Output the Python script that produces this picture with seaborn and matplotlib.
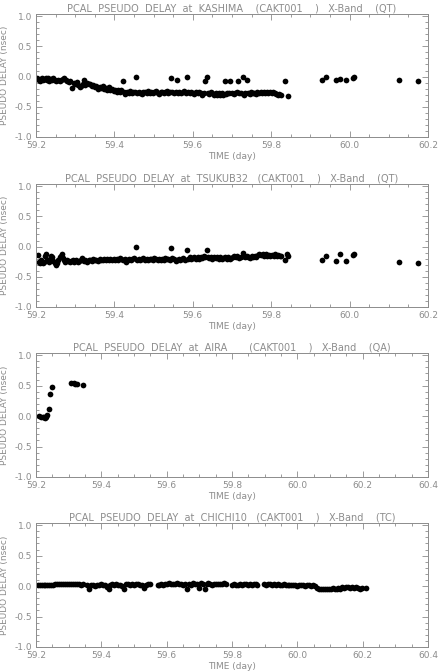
import matplotlib
matplotlib.use("Agg")
import matplotlib.pyplot as plt
import numpy as np
import pandas as pd
import seaborn as sns
from matplotlib.ticker import MultipleLocator, FormatStrFormatter

# --- data -----------------------------------------------------------------
kashima_time = [
    59.203, 59.207, 59.210, 59.213, 59.216, 59.219, 59.222, 59.225, 59.228, 59.231,
    59.234, 59.237, 59.240, 59.244, 59.248, 59.252, 59.256, 59.260, 59.264, 59.268,
    59.272, 59.276, 59.280, 59.284, 59.288, 59.292, 59.296, 59.300, 59.304, 59.308,
    59.312, 59.316, 59.320, 59.323, 59.326, 59.330, 59.334, 59.338, 59.342, 59.346,
    59.350, 59.354, 59.358, 59.362, 59.366, 59.370, 59.374, 59.378, 59.382, 59.386,
    59.390, 59.394, 59.398, 59.402, 59.406, 59.410, 59.414, 59.418, 59.421, 59.424,
    59.428, 59.432, 59.436, 59.440, 59.444, 59.448, 59.452, 59.455, 59.458, 59.462,
    59.466, 59.470, 59.474, 59.478, 59.482, 59.486, 59.490, 59.494, 59.498, 59.502,
    59.506, 59.510, 59.514, 59.518, 59.522, 59.526, 59.530, 59.534, 59.538, 59.542,
    59.545, 59.548, 59.552, 59.556, 59.560, 59.562, 59.566, 59.570, 59.574, 59.578,
    59.582, 59.585, 59.588, 59.592, 59.596, 59.600, 59.604, 59.608, 59.612, 59.616,
    59.620, 59.624, 59.628, 59.632, 59.635, 59.638, 59.642, 59.646, 59.650, 59.654,
    59.658, 59.662, 59.666, 59.670, 59.674, 59.678, 59.681, 59.684, 59.688, 59.692,
    59.696, 59.700, 59.704, 59.708, 59.712, 59.715, 59.718, 59.722, 59.727, 59.730,
    59.734, 59.738, 59.741, 59.745, 59.749, 59.753, 59.757, 59.761, 59.765, 59.769,
    59.773, 59.777, 59.781, 59.785, 59.789, 59.793, 59.797, 59.801, 59.805, 59.809,
    59.813, 59.817, 59.821, 59.825, 59.836, 59.843, 59.930, 59.940, 59.966, 59.975,
    59.990, 60.008, 60.012, 60.125, 60.175,
]
kashima_delay = [
    -0.02, -0.05, -0.07, -0.04, -0.03, -0.06, -0.04, -0.02, -0.05, -0.03,
    -0.07, -0.04, -0.06, -0.03, -0.05, -0.07, -0.06, -0.08, -0.05, -0.04,
    -0.03, -0.05, -0.07, -0.09, -0.08, -0.19, -0.10, -0.12, -0.09, -0.14,
    -0.17, -0.15, -0.12, -0.05, -0.14, -0.11, -0.13, -0.12, -0.16, -0.14,
    -0.18, -0.15, -0.20, -0.17, -0.19, -0.16, -0.21, -0.19, -0.22, -0.18,
    -0.22, -0.20, -0.24, -0.22, -0.25, -0.23, -0.26, -0.22, -0.07, -0.25,
    -0.29, -0.25, -0.27, -0.24, -0.28, -0.26, -0.25, 0.00, -0.28, -0.25,
    -0.27, -0.29, -0.26, -0.25, -0.28, -0.24, -0.27, -0.25, -0.28, -0.26,
    -0.24, -0.27, -0.29, -0.26, -0.25, -0.28, -0.26, -0.24, -0.27, -0.25,
    -0.02, -0.26, -0.28, -0.25, -0.06, -0.27, -0.25, -0.28, -0.26, -0.24,
    -0.27, 0.00, -0.26, -0.28, -0.25, -0.27, -0.29, -0.26, -0.28, -0.25,
    -0.27, -0.30, -0.28, -0.07, -0.01, -0.27, -0.29, -0.26, -0.28, -0.30,
    -0.27, -0.31, -0.28, -0.30, -0.27, -0.31, -0.07, -0.29, -0.27, -0.28,
    -0.08, -0.27, -0.29, -0.28, -0.26, -0.08, -0.28, -0.27, 0.00, -0.30,
    -0.28, -0.06, -0.27, -0.29, -0.26, -0.28, -0.27, -0.29, -0.26, -0.28,
    -0.25, -0.27, -0.26, -0.28, -0.25, -0.27, -0.26, -0.28, -0.26, -0.27,
    -0.29, -0.31, -0.29, -0.30, -0.07, -0.32, -0.06, -0.01, -0.05, -0.04,
    -0.06, -0.03, -0.01, -0.06, -0.08,
]

tsukub_time = [
    59.205, 59.208, 59.211, 59.214, 59.217, 59.220, 59.223, 59.226, 59.229, 59.232,
    59.235, 59.238, 59.241, 59.244, 59.248, 59.251, 59.254, 59.257, 59.260, 59.263,
    59.266, 59.269, 59.272, 59.275, 59.278, 59.282, 59.286, 59.290, 59.294, 59.298,
    59.302, 59.306, 59.310, 59.314, 59.318, 59.322, 59.326, 59.330, 59.334, 59.338,
    59.342, 59.346, 59.350, 59.354, 59.358, 59.362, 59.366, 59.370, 59.374, 59.378,
    59.382, 59.386, 59.390, 59.394, 59.398, 59.402, 59.406, 59.410, 59.414, 59.418,
    59.422, 59.426, 59.430, 59.434, 59.438, 59.442, 59.446, 59.450, 59.455, 59.458,
    59.462, 59.466, 59.470, 59.474, 59.478, 59.482, 59.486, 59.490, 59.494, 59.498,
    59.502, 59.506, 59.510, 59.514, 59.518, 59.522, 59.526, 59.530, 59.534, 59.538,
    59.542, 59.545, 59.548, 59.552, 59.556, 59.560, 59.564, 59.568, 59.572, 59.576,
    59.580, 59.585, 59.588, 59.592, 59.596, 59.600, 59.604, 59.608, 59.612, 59.616,
    59.620, 59.624, 59.628, 59.632, 59.635, 59.638, 59.642, 59.646, 59.650, 59.654,
    59.658, 59.662, 59.666, 59.670, 59.674, 59.678, 59.682, 59.686, 59.690, 59.694,
    59.698, 59.702, 59.706, 59.710, 59.714, 59.718, 59.722, 59.727, 59.730, 59.734,
    59.738, 59.742, 59.746, 59.750, 59.754, 59.758, 59.762, 59.766, 59.770, 59.774,
    59.778, 59.782, 59.786, 59.790, 59.794, 59.798, 59.802, 59.806, 59.810, 59.814,
    59.818, 59.822, 59.826, 59.836, 59.840, 59.843, 59.930, 59.940, 59.966, 59.975,
    59.990, 60.008, 60.012, 60.125, 60.175,
]
tsukub_delay = [
    -0.14, -0.25, -0.27, -0.22, -0.27, -0.25, -0.16, -0.13, -0.22, -0.26,
    -0.20, -0.15, -0.18, -0.24, -0.28, -0.30, -0.27, -0.22, -0.17, -0.15,
    -0.13, -0.19, -0.23, -0.26, -0.22, -0.24, -0.26, -0.24, -0.22, -0.25,
    -0.23, -0.26, -0.24, -0.22, -0.19, -0.24, -0.22, -0.25, -0.23, -0.22,
    -0.24, -0.21, -0.23, -0.22, -0.24, -0.21, -0.23, -0.22, -0.20, -0.23,
    -0.21, -0.22, -0.20, -0.23, -0.21, -0.22, -0.20, -0.22, -0.19, -0.21,
    -0.23, -0.21, -0.26, -0.22, -0.20, -0.23, -0.21, -0.19, 0.00, -0.22,
    -0.20, -0.23, -0.21, -0.19, -0.22, -0.20, -0.23, -0.21, -0.20, -0.22,
    -0.19, -0.21, -0.23, -0.20, -0.22, -0.20, -0.22, -0.19, -0.21, -0.20,
    -0.22, -0.03, -0.19, -0.21, -0.24, -0.22, -0.20, -0.23, -0.21, -0.19,
    -0.22, -0.05, -0.20, -0.18, -0.21, -0.19, -0.17, -0.20, -0.18, -0.21,
    -0.17, -0.19, -0.16, -0.18, -0.06, -0.17, -0.19, -0.17, -0.20, -0.18,
    -0.19, -0.17, -0.20, -0.18, -0.21, -0.19, -0.17, -0.20, -0.18, -0.21,
    -0.19, -0.17, -0.15, -0.18, -0.16, -0.19, -0.17, -0.10, -0.16, -0.18,
    -0.15, -0.17, -0.19, -0.16, -0.18, -0.15, -0.17, -0.14, -0.12, -0.14,
    -0.12, -0.15, -0.13, -0.15, -0.14, -0.16, -0.14, -0.15, -0.13, -0.15,
    -0.14, -0.16, -0.15, -0.23, -0.13, -0.16, -0.23, -0.15, -0.24, -0.12,
    -0.24, -0.14, -0.13, -0.25, -0.27,
]

aira_time = [
    59.210, 59.215, 59.220, 59.224, 59.228, 59.231, 59.235, 59.240, 59.244, 59.249,
    59.307, 59.315, 59.320, 59.326, 59.345,
]
aira_delay = [
    0.00, -0.01, -0.01, -0.02, -0.03, -0.02, 0.02, 0.12, 0.37, 0.48,
    0.55, 0.54, 0.53, 0.52, 0.51,
]

chichi_time = [
    59.205, 59.211, 59.217, 59.223, 59.229, 59.235, 59.241, 59.247, 59.253, 59.259,
    59.265, 59.271, 59.277, 59.283, 59.289, 59.295, 59.301, 59.307, 59.313, 59.319,
    59.325, 59.331, 59.337, 59.343, 59.356, 59.362, 59.368, 59.374, 59.380, 59.386,
    59.392, 59.398, 59.404, 59.410, 59.416, 59.422, 59.428, 59.434, 59.440, 59.446,
    59.452, 59.458, 59.464, 59.470, 59.476, 59.482, 59.488, 59.494, 59.500, 59.506,
    59.512, 59.518, 59.524, 59.530, 59.536, 59.542, 59.548, 59.572, 59.578, 59.584,
    59.590, 59.596, 59.602, 59.608, 59.614, 59.620, 59.626, 59.632, 59.638, 59.644,
    59.650, 59.656, 59.662, 59.668, 59.674, 59.680, 59.686, 59.692, 59.698, 59.704,
    59.710, 59.716, 59.722, 59.728, 59.734, 59.740, 59.746, 59.752, 59.758, 59.764,
    59.770, 59.776, 59.782, 59.800, 59.806, 59.812, 59.818, 59.824, 59.830, 59.836,
    59.842, 59.848, 59.854, 59.860, 59.866, 59.872, 59.878, 59.898, 59.904, 59.910,
    59.916, 59.922, 59.928, 59.934, 59.940, 59.946, 59.952, 59.958, 59.964, 59.970,
    59.976, 59.982, 59.988, 59.994, 60.000, 60.006, 60.012, 60.018, 60.024, 60.030,
    60.036, 60.042, 60.048, 60.054, 60.060, 60.066, 60.072, 60.078, 60.084, 60.090,
    60.096, 60.102, 60.108, 60.114, 60.120, 60.126, 60.132, 60.138, 60.144, 60.150,
    60.156, 60.162, 60.168, 60.174, 60.180, 60.186, 60.192, 60.198, 60.210,
]
chichi_delay = [
    0.01, 0.02, 0.01, 0.02, 0.01, 0.02, 0.02, 0.01, 0.02, 0.03,
    0.03, 0.04, 0.04, 0.03, 0.04, 0.03, 0.04, 0.03, 0.04, 0.03,
    0.04, 0.03, 0.02, 0.03, 0.01, -0.04, 0.01, 0.02, 0.00, 0.02,
    0.01, 0.03, 0.02, 0.01, -0.01, -0.05, 0.02, 0.03, 0.02, 0.03,
    0.01, 0.02, 0.00, -0.05, 0.03, 0.04, 0.02, 0.03, 0.02, 0.04,
    0.03, 0.01, 0.02, -0.03, 0.01, 0.03, 0.03, 0.01, 0.02, 0.03,
    0.02, 0.04, 0.03, 0.05, 0.04, 0.03, 0.04, 0.05, 0.03, 0.04,
    0.02, 0.04, -0.05, 0.03, 0.02, 0.05, 0.03, 0.04, -0.03, 0.05,
    0.03, -0.04, 0.04, 0.05, 0.03, 0.02, 0.04, 0.03, 0.04, 0.03,
    0.04, 0.05, 0.04, 0.02, 0.03, 0.02, 0.01, 0.03, 0.02, 0.03,
    0.04, 0.02, 0.03, 0.02, 0.04, 0.03, 0.02, 0.03, 0.02, 0.03,
    0.04, 0.02, 0.03, 0.02, 0.03, 0.01, 0.02, 0.03, 0.02, 0.01,
    0.02, 0.01, 0.02, 0.01, 0.00, 0.02, 0.01, 0.02, 0.00, 0.01,
    0.01, 0.00, 0.01, 0.00, -0.03, -0.04, -0.05, -0.04, -0.05, -0.04,
    -0.05, -0.04, -0.03, -0.04, -0.05, -0.03, -0.04, -0.02, -0.03, -0.01,
    -0.02, -0.03, -0.02, -0.03, -0.02, -0.03, -0.04, -0.03, -0.03,
]

stations = ["KASHIMA", "TSUKUB32", "AIRA", "CHICHI10"]
codes = ["QT", "QT", "QA", "TC"]
x_max = [60.2, 60.2, 60.4, 60.4]
times = [kashima_time, tsukub_time, aira_time, chichi_time]
delays = [kashima_delay, tsukub_delay, aira_delay, chichi_delay]

# --- styling ---------------------------------------------------------------
sns.set_style("ticks")
plt.rcParams["font.family"] = ["DejaVu Sans"]
GREY = "#8c8c8c"
W, H = 439, 672
fig = plt.figure(figsize=(W / 100, H / 100), dpi=100)

# axes boxes in pixels (left, top, right, bottom)
boxes = [(36, 14, 428, 137), (36, 184, 428, 307), (36, 353, 428, 477), (36, 523, 428, 647)]

for i, (l, t, r, b) in enumerate(boxes):
    ax = fig.add_axes([l / W, 1 - b / H, (r - l) / W, (b - t) / H])
    df = pd.DataFrame({"time": times[i], "delay": delays[i]})
    sns.scatterplot(data=df, x="time", y="delay", ax=ax, color="black",
                    s=17, linewidth=0, legend=False)

    ax.set_xlim(59.2, x_max[i])
    ax.set_ylim(-1.0, 1.035)
    ax.xaxis.set_major_locator(MultipleLocator(0.2))
    ax.xaxis.set_minor_locator(MultipleLocator(0.05))
    ax.yaxis.set_minor_locator(MultipleLocator(0.1))
    ax.set_yticks([-1.0, -0.5, 0.0, 0.5, 1.0])
    ax.xaxis.set_major_formatter(FormatStrFormatter("%.1f"))
    ax.yaxis.set_major_formatter(FormatStrFormatter("%.1f"))

    ax.tick_params(which="both", direction="in", top=True, right=True,
                   colors=GREY, labelcolor=GREY, labelsize=6.5, width=0.6, pad=3)
    ax.tick_params(which="major", length=4)
    ax.tick_params(which="minor", length=2)
    for sp in ax.spines.values():
        sp.set_color(GREY)
        sp.set_linewidth(0.7)

    name = stations[i].ljust(8)
    ax.set_title(f"PCAL  PSEUDO  DELAY  at  {name}   (CAKT001    )   X-Band    ({codes[i]})",
                 color=GREY, fontsize=7, pad=2)
    ax.set_xlabel("TIME (day)", color=GREY, fontsize=6.5, labelpad=1)
    ax.set_ylabel("PSEUDO DELAY (nsec)", color=GREY, fontsize=6.5, labelpad=4)

fig.savefig("out.png", dpi=100)
